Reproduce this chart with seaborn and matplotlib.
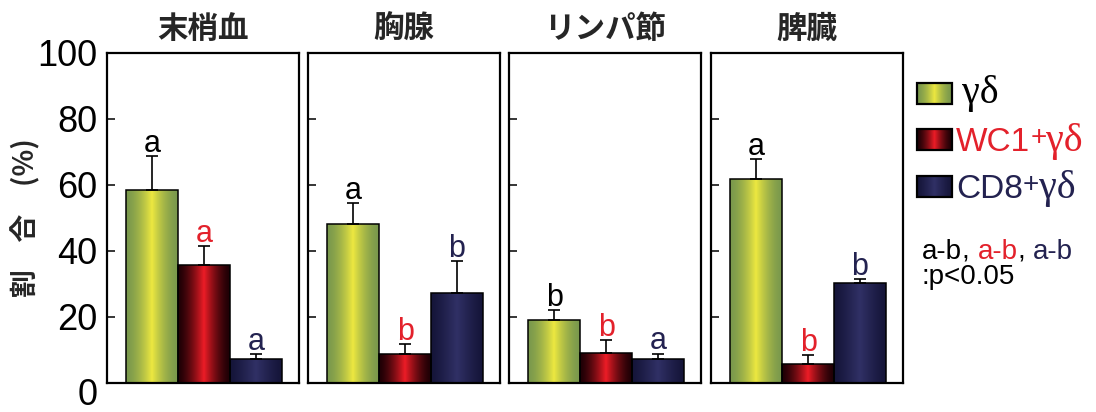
import numpy as np
import pandas as pd
import matplotlib
matplotlib.use("Agg")
import matplotlib.pyplot as plt
import matplotlib.transforms as mtransforms
from matplotlib.patches import Rectangle
import seaborn as sns

# ---- data -------------------------------------------------------------
organs = ["末梢血", "胸腺", "リンパ節", "脾臓"]
subsets = ["γδ", "WC1+γδ", "CD8+γδ"]

mean_gd = [58.6, 48.1, 19.0, 61.9]
mean_wc1 = [35.7, 8.7, 9.1, 5.7]
mean_cd8 = [7.3, 27.2, 7.2, 30.4]

err_gd = [10.2, 6.4, 3.0, 5.9]
err_wc1 = [5.7, 3.0, 3.8, 2.7]
err_cd8 = [1.5, 9.7, 1.7, 1.1]

letters_gd = ["a", "a", "b", "a"]
letters_wc1 = ["a", "b", "b", "b"]
letters_cd8 = ["a", "b", "a", "b"]

y_ticks = [0, 20, 40, 60, 80, 100]

# ---- style ------------------------------------------------------------
sns.set_theme(style="white")
plt.rcParams["font.family"] = ["Liberation Sans", "Noto Sans CJK JP", "DejaVu Sans"]
CJK = ["Noto Sans CJK JP", "DejaVu Sans"]

RED_TXT = "#e3212b"
NAVY_TXT = "#232250"
text_colors = ["black", RED_TXT, NAVY_TXT]

# edge colour, centre colour, sharpness of the bright stripe
gradients = {
    "γδ": ((0.48, 0.60, 0.30), (0.93, 0.91, 0.25), 1.6),
    "WC1+γδ": ((0.12, 0.0, 0.02), (0.93, 0.11, 0.15), 1.5),
    "CD8+γδ": ((0.08, 0.08, 0.22), (0.19, 0.19, 0.40), 1.2),
}
flat_palette = {"γδ": "#b9c84a", "WC1+γδ": "#8a0f14", "CD8+γδ": "#1e1e4a"}


def gradient_image(edge, mid, power):
    u = np.linspace(0.0, 1.0, 256)
    t = (1.0 - np.abs(2.0 * u - 1.0)) ** power
    edge = np.array(edge)
    mid = np.array(mid)
    cols = edge[None, :] + (mid - edge)[None, :] * t[:, None]
    return cols[None, :, :]


def fill_with_gradient(ax, patch, key):
    edge, mid, power = gradients[key]
    x0, y0 = patch.get_x(), patch.get_y()
    w, h = patch.get_width(), patch.get_height()
    im = ax.imshow(gradient_image(edge, mid, power),
                   extent=[x0, x0 + w, y0, y0 + h], aspect="auto",
                   interpolation="bilinear", zorder=patch.get_zorder() - 0.05)
    im.set_clip_path(patch)
    patch.set_facecolor("none")


W, H = 1096, 412
fig = plt.figure(figsize=(W / 100, H / 100), dpi=100)
fig.patch.set_facecolor("white")

panel_left_px = [107, 308, 509, 711]
panel_w_px = 192
top_px, bottom_px = 53, 383

means = [mean_gd, mean_wc1, mean_cd8]
errs = [err_gd, err_wc1, err_cd8]
letters = [letters_gd, letters_wc1, letters_cd8]

axes = []
for i, organ in enumerate(organs):
    ax = fig.add_axes([panel_left_px[i] / W, (H - bottom_px) / H,
                       panel_w_px / W, (bottom_px - top_px) / H])
    axes.append(ax)
    df = pd.DataFrame({"subset": subsets,
                       "value": [m[i] for m in means]})
    sns.barplot(data=df, x="subset", y="value", hue="subset",
                order=subsets, hue_order=subsets, palette=flat_palette,
                width=1.0, edgecolor="black", linewidth=1.1,
                legend=False, ax=ax)

    bars = list(ax.patches)
    centers = [p.get_x() + p.get_width() / 2 for p in bars]
    for p, key in zip(bars, subsets):
        fill_with_gradient(ax, p, key)

    vals = [m[i] for m in means]
    up = [e[i] for e in errs]
    ax.errorbar(centers, vals, yerr=[np.zeros(3), up], fmt="none",
                ecolor="black", elinewidth=1.2, capsize=4, capthick=1.2,
                zorder=5)

    for c, v, e, lab, col in zip(centers, vals, up,
                                 [l[i] for l in letters], text_colors):
        ax.annotate(lab, xy=(c, v + e), xytext=(0, 3),
                    textcoords="offset points", ha="center",
                    va="baseline", fontsize=22, color=col)

    ax.set_xlim(-0.87, 2.83)
    ax.set_ylim(0, 100)
    ax.set_xticks([])
    ax.set_xlabel("")
    ax.set_ylabel("")
    ax.set_yticks(y_ticks)
    ax.tick_params(axis="y", direction="in", length=5.5, width=1.1,
                   left=True, right=False, labelleft=(i == 0),
                   labelsize=26, pad=7, colors="black")
    for s in ax.spines.values():
        s.set_visible(True)
        s.set_color("black")
        s.set_linewidth(1.6)
    ax.set_title(organ, family=CJK, fontweight="bold", fontsize=22, pad=11)

# the zero label sits a little below the baseline of the axis
fig.canvas.draw()
shift = mtransforms.ScaledTranslation(0, -0.085, fig.dpi_scale_trans)
for lab in axes[0].get_yticklabels():
    if lab.get_text() == "0":
        lab.set_transform(lab.get_transform() + shift)

# ---- overlay in pixel coordinates: y label, legend, note ---------------
ov = fig.add_axes([0, 0, 1, 1])
ov.set_xlim(0, W)
ov.set_ylim(H, 0)
ov.axis("off")

ov.text(26, 218, "割　合　(%)", rotation=90, ha="center", va="center",
        family=CJK, fontweight="bold", fontsize=20)

box_x, box_w, box_h = 917, 35, 21
box_tops = [83, 129, 176]
for key, yt in zip(subsets, box_tops):
    rect = Rectangle((box_x, yt), box_w, box_h, facecolor="none",
                     edgecolor="black", linewidth=1.6, zorder=3)
    ov.add_patch(rect)
    edge, mid, power = gradients[key]
    im = ov.imshow(gradient_image(edge, mid, power),
                   extent=[box_x, box_x + box_w, yt + box_h, yt],
                   aspect="auto", interpolation="bilinear", zorder=2)
    im.set_clip_path(rect)
ov.set_xlim(0, W)
ov.set_ylim(H, 0)


def chain(x, y, pieces):
    """Write consecutive text pieces on one baseline."""
    s, kw = pieces[0]
    prev = ov.text(x, y, s, ha="left", va="baseline", **kw)
    for s, kw in pieces[1:]:
        kw = dict(kw)
        dy = kw.pop("dy", 0)
        prev = ov.annotate(s, xy=(1, y), xycoords=(prev, "data"),
                           xytext=(0, dy), textcoords="offset points",
                           ha="left", va="baseline", **kw)
    return prev


serif = dict(family="Liberation Serif", fontsize=29)
chain(962, 103, [("γδ", dict(serif, color="black"))])
chain(956, 151, [("WC1", dict(fontsize=24, color=RED_TXT)),
                 ("+", dict(fontsize=20, color=RED_TXT, dy=4)),
                 ("γδ", dict(serif, color=RED_TXT))])
chain(956, 198, [("CD8", dict(fontsize=24, color=NAVY_TXT)),
                 ("+", dict(fontsize=20, color=NAVY_TXT, dy=4)),
                 ("γδ", dict(serif, color=NAVY_TXT))])

chain(922, 259, [("a-b", dict(fontsize=20, color="black")),
                 (", ", dict(fontsize=20, color="black")),
                 ("a-b", dict(fontsize=20, color=RED_TXT)),
                 (", ", dict(fontsize=20, color="black")),
                 ("a-b", dict(fontsize=20, color=NAVY_TXT))])
chain(922, 284, [(":p<0.05", dict(fontsize=20, color="black"))])

fig.savefig("out.png", dpi=100, facecolor="white")
